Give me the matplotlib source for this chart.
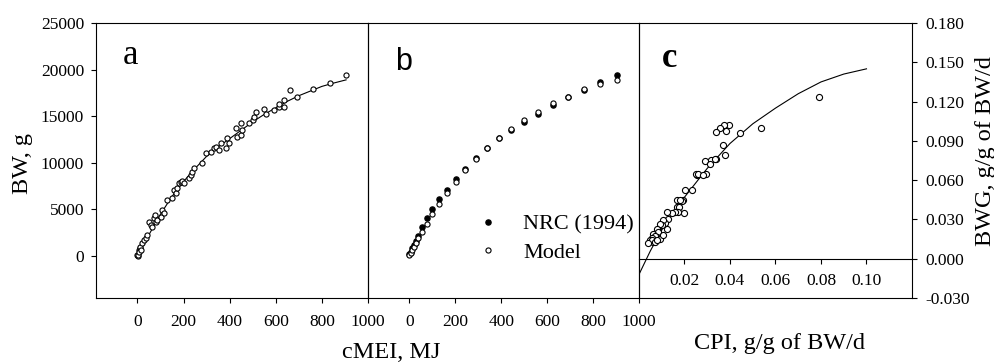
import numpy as np
import matplotlib
matplotlib.use("Agg")
import matplotlib.pyplot as plt
from matplotlib.ticker import FormatStrFormatter

plt.rcParams['font.family'] = ['Liberation Serif', 'DejaVu Serif']

# Panel a: observed BW vs cumulative MEI, with fitted curve
a_x = [0, 2, 3, 6, 8, 10, 13, 16, 20, 28, 35, 42, 49, 57, 64, 71, 78, 80, 86,
       100, 107, 114, 129, 151, 158, 165, 173, 180, 187, 195, 201, 223, 230,
       238, 245, 281, 296, 317, 330, 339, 354, 361, 383, 390, 397, 426, 433,
       448, 448, 455, 484, 499, 506, 513, 549, 557, 593, 612, 615, 636, 636,
       661, 694, 760, 835, 904]
a_y = [100, 50, 150, 644, 400, 900, 1000, 700, 1360, 1700, 1900, 2250, 3680,
       3330, 3150, 4040, 4400, 3700, 3860, 4220, 4940, 4580, 6010, 6190, 7080,
       6730, 7260, 7800, 7970, 8050, 7800, 8340, 8690, 9050, 9410, 9950,
       11020, 11200, 11550, 11730, 11375, 12090, 11560, 12630, 12090, 13700,
       12800, 14240, 12980, 13520, 14240, 14590, 14950, 15490, 15740, 15240,
       15670, 16020, 16310, 16740, 15960, 17810, 17030, 17890, 18600, 19420]
a_fit_x = [0, 50, 100, 150, 200, 250, 300, 350, 400, 450, 500, 550, 600, 650,
           700, 750, 800, 850, 905]
a_fit_y = [0, 2300, 4500, 6400, 8000, 9400, 10700, 11700, 12600, 13500, 14400,
           15200, 15900, 16600, 17200, 17700, 18200, 18550, 18900]

# Panel b: NRC (1994) vs model predictions
b_x = [0, 6, 13, 20, 27, 38, 56, 78, 100, 131, 165, 204, 244, 290, 338, 389,
       442, 501, 562, 624, 692, 760, 832, 905]
b_nrc = [200, 460, 820, 1180, 1600, 2150, 3150, 4040, 5010, 6080, 7080, 8260,
         9300, 10550, 11550, 12630, 13520, 14420, 15240, 16200, 17100, 17810,
         18670, 19420]
b_model = [100, 290, 640, 1000, 1360, 1900, 2610, 3430, 4500, 5580, 6800,
           7980, 9230, 10410, 11550, 12630, 13590, 14590, 15490, 16380, 17100,
           17890, 18420, 18890]

# Panel c: BWG vs CPI
c_x = [0.0790, 0.0536, 0.0442, 0.0396, 0.0372, 0.0355, 0.0340, 0.0381, 0.0369,
       0.0376, 0.0340, 0.0318, 0.0289, 0.0311, 0.0333, 0.0296, 0.0256, 0.0250,
       0.0260, 0.0282, 0.0231, 0.0201, 0.0194, 0.0187, 0.0165, 0.0179, 0.0165,
       0.0177, 0.0198, 0.0172, 0.0158, 0.0143, 0.0121, 0.0128, 0.0114, 0.0121,
       0.0107, 0.0099, 0.0092, 0.0085, 0.0077, 0.0085, 0.0063, 0.0077, 0.0070,
       0.0055, 0.0063, 0.0048, 0.0055, 0.0070, 0.0041, 0.0092, 0.0106, 0.0077]
c_y = [0.1232, 0.1000, 0.0957, 0.1020, 0.1020, 0.0995, 0.0969, 0.0974, 0.0867,
       0.0791, 0.0765, 0.0752, 0.0745, 0.0727, 0.0765, 0.0650, 0.0638, 0.0650,
       0.0650, 0.0643, 0.0528, 0.0523, 0.0451, 0.0441, 0.0451, 0.0446, 0.0395,
       0.0395, 0.0349, 0.0357, 0.0357, 0.0349, 0.0357, 0.0306, 0.0273, 0.0230,
       0.0293, 0.0255, 0.0263, 0.0217, 0.0230, 0.0204, 0.0191, 0.0166, 0.0171,
       0.0161, 0.0128, 0.0140, 0.0140, 0.0127, 0.0120, 0.0153, 0.0178, 0.0145]
c_fit_x = [0.000, 0.005, 0.010, 0.015, 0.020, 0.030, 0.040, 0.050, 0.060,
           0.070, 0.080, 0.090, 0.100]
c_fit_y = [-0.012, 0.006, 0.022, 0.035, 0.047, 0.069, 0.088, 0.103, 0.115,
           0.126, 0.135, 0.141, 0.145]

fig = plt.figure(figsize=(9.95, 3.63), dpi=100)
bot, h = 1 - 298 / 363, 275 / 363
ax_a = fig.add_axes([96 / 995, bot, 272 / 995, h])
ax_b = fig.add_axes([368 / 995, bot, 271 / 995, h])
ax_c = fig.add_axes([639 / 995, bot, 273 / 995, h])

tick_fs = 12.5
lw = 0.8
for ax in (ax_a, ax_b, ax_c):
    ax.patch.set_alpha(0)
    for s in ax.spines.values():
        s.set_linewidth(lw)
    ax.tick_params(direction='out', length=3.5, width=lw, labelsize=tick_fs)

# --- a ---
ax_a.plot(a_fit_x, a_fit_y, color='black', lw=0.8)
ax_a.plot(a_x, a_y, 'o', mfc='white', mec='black', mew=0.8, ms=3.7)
ax_a.set_xlim(-180, 1000)
ax_a.set_ylim(-4500, 25000)
ax_a.set_xticks([0, 200, 400, 600, 800, 1000])
ax_a.set_yticks([0, 5000, 10000, 15000, 20000, 25000])
ax_a.tick_params(axis='x', pad=8)
ax_a.tick_params(axis='y', pad=5)
ax_a.text(0.1, 0.85, 'a', transform=ax_a.transAxes, fontsize=25)

# --- b ---
ax_b.plot(b_x, b_nrc, 'o', mfc='black', mec='black', ms=3.7, label='NRC (1994)')
ax_b.plot(b_x, b_model, 'o', mfc='white', mec='black', mew=0.8, ms=3.7,
          label='Model')
ax_b.set_xlim(-180, 1000)
ax_b.set_ylim(-4500, 25000)
ax_b.set_xticks([0, 200, 400, 600, 800, 1000])
ax_b.set_yticks([])
ax_b.tick_params(axis='x', pad=8)
ax_b.text(0.10, 0.83, 'b', transform=ax_b.transAxes, fontsize=22,
          family=['Liberation Sans', 'DejaVu Sans'])
ax_b.legend(loc='upper left', bbox_to_anchor=(0.40, 0.305), frameon=False,
            fontsize=16, handlelength=1.0, handletextpad=1.1, borderpad=0,
            borderaxespad=0, labelspacing=0.36, markerscale=1.0)

# --- c ---
ax_c.plot(c_fit_x, c_fit_y, color='black', lw=0.8)
ax_c.plot(c_x, c_y, 'o', mfc='white', mec='black', mew=0.8, ms=4.4)
ax_c.set_xlim(0, 0.12)
ax_c.set_ylim(-0.03, 0.18)
ax_c.spines['bottom'].set_position(('data', 0))
ax_c.plot([0, 1], [0, 0], transform=ax_c.transAxes, color='black', lw=lw,
          clip_on=False)
ax_c.set_xticks([0.02, 0.04, 0.06, 0.08, 0.10])
ax_c.xaxis.set_major_formatter(FormatStrFormatter('%.2f'))
ax_c.tick_params(axis='x', pad=7)
ax_c.yaxis.tick_right()
ax_c.set_yticks(np.arange(-0.03, 0.181, 0.03))
ax_c.yaxis.set_major_formatter(FormatStrFormatter('%.3f'))
ax_c.tick_params(axis='y', pad=6)
ax_c.text(0.085, 0.84, 'c', transform=ax_c.transAxes, fontsize=25,
          fontweight='bold')

# axis labels
lab_fs = 17.5
fig.text(23 / 995, 1 - 163 / 363, 'BW, g', rotation=90, ha='center',
         va='center', fontsize=lab_fs)
fig.text(391 / 995, 1 - 353 / 363, 'cMEI, MJ', ha='center', va='center',
         fontsize=lab_fs)
fig.text(779 / 995, 1 - 343 / 363, 'CPI, g/g of BW/d', ha='center',
         va='center', fontsize=lab_fs)
fig.text(986 / 995, 1 - 151 / 363, 'BWG, g/g of BW/d', rotation=90,
         ha='center', va='center', fontsize=lab_fs)

fig.savefig('out.png', dpi=100)
